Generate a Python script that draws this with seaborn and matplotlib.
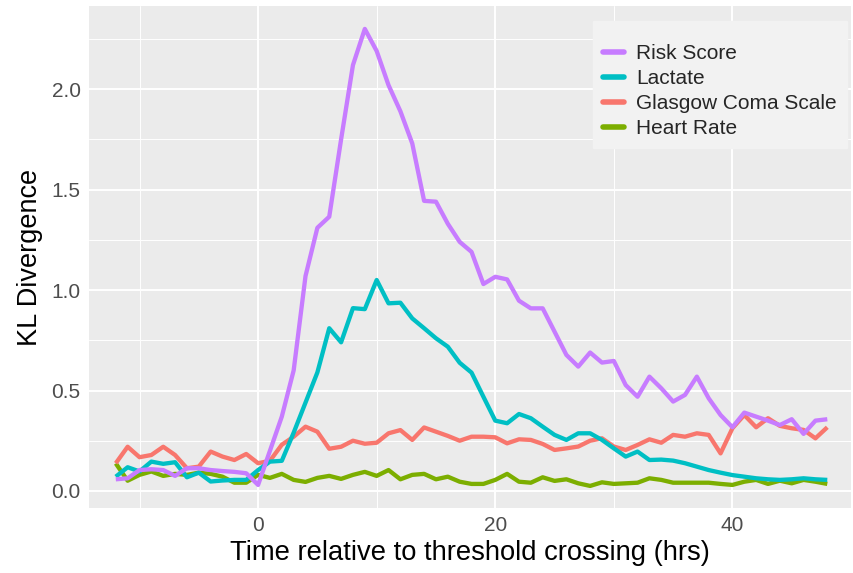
import numpy as np
import pandas as pd
import seaborn as sns
import matplotlib
matplotlib.use("Agg")
import matplotlib.pyplot as plt

hours = list(range(-12, 49))

risk_score = [0.058, 0.063, 0.104, 0.108, 0.104, 0.075, 0.113, 0.113, 0.104, 0.099, 0.095, 0.088,
              0.030, 0.20, 0.37, 0.60, 1.07, 1.31, 1.365, 1.75, 2.12, 2.30, 2.19, 2.02, 1.89,
              1.73, 1.444, 1.44, 1.33, 1.24, 1.19, 1.03, 1.066, 1.053, 0.947, 0.909, 0.909,
              0.793, 0.677, 0.619, 0.689, 0.639, 0.647, 0.527, 0.469, 0.569, 0.511, 0.445,
              0.478, 0.569, 0.461, 0.378, 0.317, 0.390, 0.370, 0.350, 0.328, 0.357, 0.284,
              0.350, 0.357]

lactate = [0.071, 0.118, 0.097, 0.146, 0.135, 0.143, 0.068, 0.091, 0.047, 0.052, 0.055, 0.055,
           0.104, 0.146, 0.15, 0.29, 0.44, 0.59, 0.81, 0.74, 0.91, 0.905, 1.05, 0.934, 0.937,
           0.859, 0.81, 0.76, 0.718, 0.638, 0.589, 0.469, 0.350, 0.337, 0.383, 0.362, 0.320,
           0.279, 0.254, 0.287, 0.287, 0.254, 0.212, 0.171, 0.196, 0.154, 0.156, 0.151,
           0.138, 0.121, 0.104, 0.091, 0.079, 0.071, 0.063, 0.058, 0.055, 0.058, 0.063,
           0.058, 0.055]

glasgow = [0.138, 0.22, 0.168, 0.179, 0.22, 0.179, 0.113, 0.121, 0.196, 0.171, 0.154, 0.184,
           0.138, 0.15, 0.23, 0.27, 0.32, 0.295, 0.21, 0.22, 0.25, 0.235, 0.24, 0.287, 0.303,
           0.254, 0.316, 0.295, 0.274, 0.250, 0.270, 0.270, 0.267, 0.237, 0.257, 0.254, 0.234,
           0.204, 0.212, 0.221, 0.250, 0.262, 0.221, 0.204, 0.229, 0.257, 0.240, 0.279,
           0.270, 0.287, 0.279, 0.187, 0.312, 0.378, 0.317, 0.362, 0.324, 0.312, 0.304,
           0.262, 0.317]

heart_rate = [0.137, 0.051, 0.080, 0.097, 0.075, 0.085, 0.080, 0.091, 0.085, 0.071, 0.041, 0.041,
              0.080, 0.065, 0.085, 0.055, 0.045, 0.065, 0.075, 0.06, 0.08, 0.095, 0.075, 0.104,
              0.058, 0.080, 0.085, 0.058, 0.071, 0.046, 0.035, 0.035, 0.055, 0.085, 0.046,
              0.041, 0.068, 0.050, 0.058, 0.038, 0.025, 0.043, 0.035, 0.038, 0.041, 0.063,
              0.055, 0.041, 0.041, 0.041, 0.041, 0.035, 0.030, 0.046, 0.055, 0.035, 0.051,
              0.038, 0.055, 0.046, 0.035]

series_names = ["Risk Score", "Lactate", "Glasgow Coma Scale", "Heart Rate"]
series_colors = ["#C77CFF", "#00BFC4", "#F8766D", "#7CAE00"]
x_ticks = [0, 20, 40]
y_ticks = [0.0, 0.5, 1.0, 1.5, 2.0]
y_tick_labels = ["0.0", "0.5", "1.0", "1.5", "2.0"]

df = pd.concat([
    pd.DataFrame({"hours": hours, "kl": vals, "feature": name})
    for name, vals in zip(series_names, [risk_score, lactate, glasgow, heart_rate])
], ignore_index=True)

sns.set_theme(style="darkgrid", rc={
    "axes.facecolor": "#EBEBEB",
    "grid.color": "white",
    "axes.edgecolor": "#EBEBEB",
})
plt.rcParams["font.family"] = ["Liberation Sans", "DejaVu Sans"]

fig = plt.figure(figsize=(8.54, 5.73), dpi=100)
ax = fig.add_axes([0.1042, 0.1134, 0.8923, 0.8761])

sns.lineplot(data=df, x="hours", y="kl", hue="feature", hue_order=series_names,
             palette=series_colors, linewidth=3.1, ax=ax, legend=True)

# draw order: risk on top
zorders = {"Risk Score": 5, "Lactate": 4, "Glasgow Coma Scale": 3, "Heart Rate": 2}
for line, name in zip(ax.lines[:4], series_names):
    line.set_zorder(zorders[name])
    line.set_solid_capstyle("butt")
    line.set_solid_joinstyle("round")

ax.set_xlim(-14.26, 50.0)
ax.set_ylim(-0.085, 2.414)
ax.set_xticks(x_ticks)
ax.set_xticks([-10, 10, 30, 50], minor=True)
ax.set_yticks(y_ticks)
ax.set_yticklabels(y_tick_labels)
ax.set_yticks([0.25, 0.75, 1.25, 1.75, 2.25], minor=True)
ax.grid(which="major", color="white", linewidth=1.4)
ax.grid(which="minor", color="white", linewidth=0.7)
for s in ax.spines.values():
    s.set_visible(False)

ax.tick_params(axis="both", which="major", length=4, width=1.0, color="#333333",
               labelsize=15, labelcolor="#4D4D4D", pad=2)
ax.tick_params(axis="both", which="minor", length=0)

ax.set_xlabel("Time relative to threshold crossing (hrs)", fontsize=19.7, color="black", labelpad=3)
ax.set_ylabel("KL Divergence", fontsize=19.5, color="black", labelpad=6)

handles, labels = ax.get_legend_handles_labels()
leg = ax.legend(handles=handles, labels=labels, loc="upper right",
                bbox_to_anchor=(0.9948, 0.970), borderaxespad=0, frameon=True,
                fontsize=15, handlelength=1.0, handletextpad=0.58, labelspacing=0.28,
                borderpad=0.5, fancybox=False, title=" ", title_fontsize=5)
leg.get_frame().set_facecolor("#F2F2F2")
leg.get_frame().set_edgecolor("#F2F2F2")
leg.get_frame().set_alpha(1.0)
for lh in leg.get_lines():
    lh.set_linewidth(4)

fig.savefig("out.png", dpi=100, facecolor="white")
